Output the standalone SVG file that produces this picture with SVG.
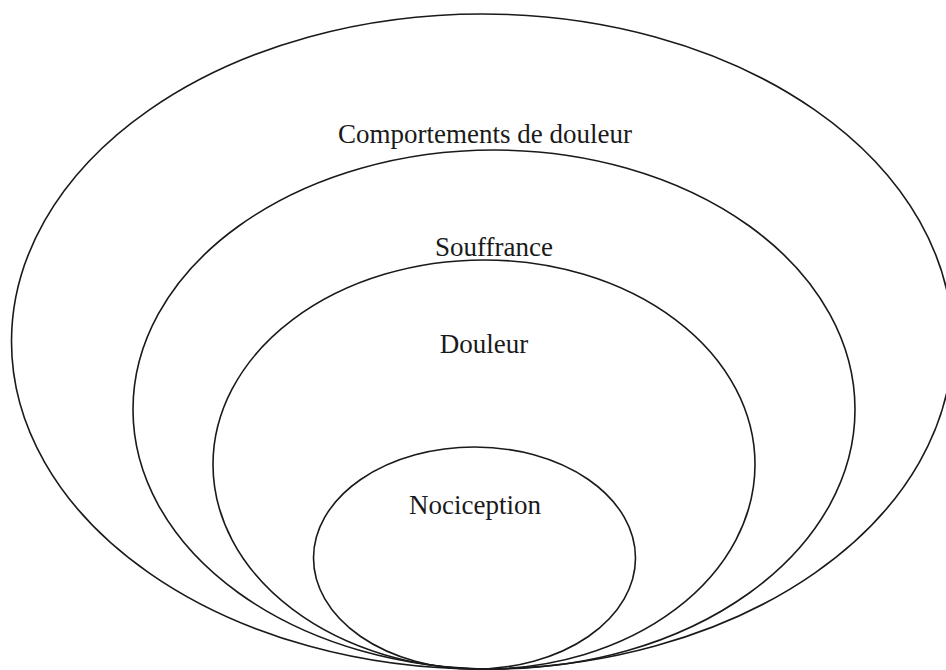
<svg xmlns="http://www.w3.org/2000/svg" width="946" height="670" viewBox="0 0 946 670">
<style>
.ring{fill:none;stroke:#1a1a1a;stroke-width:1.6}
.lbl{font-family:"Liberation Serif","Times New Roman",serif;font-size:27px;fill:#1a1a1a;text-anchor:middle}
</style>
<rect width="946" height="670" fill="#ffffff"/>
<g id="comportements">
<ellipse class="ring" cx="482" cy="341.5" rx="470.5" ry="327.5"/>
<text class="lbl" x="485" y="143">Comportements de douleur</text>
</g>
<g id="souffrance">
<ellipse class="ring" cx="494" cy="409.5" rx="361" ry="259.5"/>
<text class="lbl" x="494" y="256">Souffrance</text>
</g>
<g id="douleur">
<ellipse class="ring" cx="484" cy="464.5" rx="271" ry="204.5"/>
<text class="lbl" x="484" y="353">Douleur</text>
</g>
<g id="nociception">
<ellipse class="ring" cx="474.5" cy="558" rx="161" ry="111"/>
<text class="lbl" x="475" y="514">Nociception</text>
</g>
<g id="connectors"/>
</svg>
